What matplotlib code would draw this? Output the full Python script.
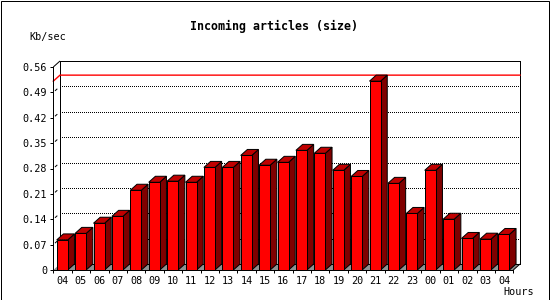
import matplotlib
matplotlib.use("Agg")
import matplotlib.pyplot as plt
from matplotlib.patches import Rectangle, Polygon

hours = ["04", "05", "06", "07", "08", "09", "10", "11", "12", "13", "14", "15",
         "16", "17", "18", "19", "20", "21", "22", "23", "00", "01", "02", "03", "04"]
kbsec = [0.083, 0.101, 0.129, 0.148, 0.220, 0.242, 0.245, 0.242, 0.283, 0.283,
         0.316, 0.289, 0.297, 0.330, 0.322, 0.275, 0.258, 0.521, 0.239, 0.156,
         0.275, 0.140, 0.087, 0.085, 0.098]
yticks = [0, 0.07, 0.14, 0.21, 0.28, 0.35, 0.42, 0.49, 0.56]
ylabels = ["0", "0.07", "0.14", "0.21", "0.28", "0.35", "0.42", "0.49", "0.56"]

W, H = 550, 300
fig = plt.figure(figsize=(W / 100, H / 100), dpi=100)
fig.patch.set_facecolor("white")

# front plane in pixels: x 53.3..513.3, y 67..270
ax = fig.add_axes([53.3 / W, 30 / H, 460 / W, 203 / H])
n = len(kbsec)
ymax = 0.56
ax.set_xlim(0, n)
ax.set_ylim(0, ymax)
ax.patch.set_visible(False)

px = 0.72  # one pixel in points
# 3d depth in data units (about 6.7 px right, 6 px up)
DX = 6.7 / (460 / n)
DY = 6.0 / (203 / ymax)

for s in ["top", "right"]:
    ax.spines[s].set_visible(False)
for s in ["left", "bottom"]:
    ax.spines[s].set_linewidth(px)

mono = "DejaVu Sans Mono"
ax.set_yticks(yticks)
ax.set_yticklabels(ylabels, family=mono, fontsize=7.3)
ax.tick_params(axis="y", length=3 * px, width=px, pad=2.2)
ax.set_xticks([i + 0.5 for i in range(n)])
ax.set_xticklabels(hours, family=mono, fontsize=7.3)
ax.set_xticks(range(n + 1), minor=True)
ax.tick_params(axis="x", which="major", length=0, pad=4.5)
ax.tick_params(axis="x", which="minor", length=3 * px, width=px)

# floor
ax.add_patch(Polygon([(0, 0), (n, 0), (n + DX, DY), (DX, DY)], closed=True,
                     fc="#909090", ec="none", clip_on=False, zorder=1))

# back plane frame and grid
kw = dict(color="black", lw=px, clip_on=False, zorder=2, solid_capstyle="butt")
ax.plot([DX, n + DX], [ymax + DY, ymax + DY], antialiased=False, **kw)
ax.plot([DX, DX], [DY, ymax + DY], antialiased=False, **kw)
ax.plot([n + DX, n + DX], [DY, ymax + DY], antialiased=False, **kw)
ax.plot([0, DX], [ymax, ymax + DY], **kw)
ax.plot([n, n + DX], [0, DY], **kw)
ax.plot([DX, n + DX], [DY, DY], **kw)
for v in yticks[1:-1]:
    ax.plot([DX, n + DX], [v + DY, v + DY], color="black", lw=px,
            dashes=(1, 2), clip_on=False, zorder=2, antialiased=False)
    ax.plot([0.25 * DX, 0.6 * DX], [v + 0.25 * DY, v + 0.6 * DY], **kw)

# max line
vmax = max(kbsec)
ax.plot([0, DX, n + DX], [vmax, vmax + DY, vmax + DY], color="#ff0000",
        lw=1.0, clip_on=False, zorder=2)

# bars
for i, v in enumerate(kbsec):
    x0 = i + 0.185
    x1 = i + 0.785
    ax.add_patch(Polygon([(x1, 0), (x1 + DX, DY), (x1 + DX, v + DY), (x1, v)],
                         closed=True, fc="#800000", ec="black", lw=px,
                         clip_on=False, zorder=3))
    ax.add_patch(Polygon([(x0, v), (x1, v), (x1 + DX, v + DY), (x0 + DX, v + DY)],
                         closed=True, fc="#c00000", ec="black", lw=px,
                         clip_on=False, zorder=3))
    ax.add_patch(Rectangle((x0, 0), x1 - x0, v, fc="#ff0000", ec="black",
                           lw=px, clip_on=False, zorder=4))

fig.text(274 / W, 1 - 26.7 / H, "Incoming articles (size)", family=mono,
         fontweight="bold", fontsize=8.4, ha="center", va="center")
fig.text(47.5 / W, 1 - 37 / H, "Kb/sec", family=mono, fontsize=7.3,
         ha="center", va="center")
fig.text(519 / W, 1 - 292 / H, "Hours", family=mono, fontsize=7.3,
         ha="center", va="center")

fig.add_artist(Rectangle((0.5 / W, 0.5 / H), (W - 1.5) / W, (H - 1.5) / H,
                         transform=fig.transFigure, fill=False, ec="black",
                         lw=px))

fig.savefig("out.png", dpi=100)
